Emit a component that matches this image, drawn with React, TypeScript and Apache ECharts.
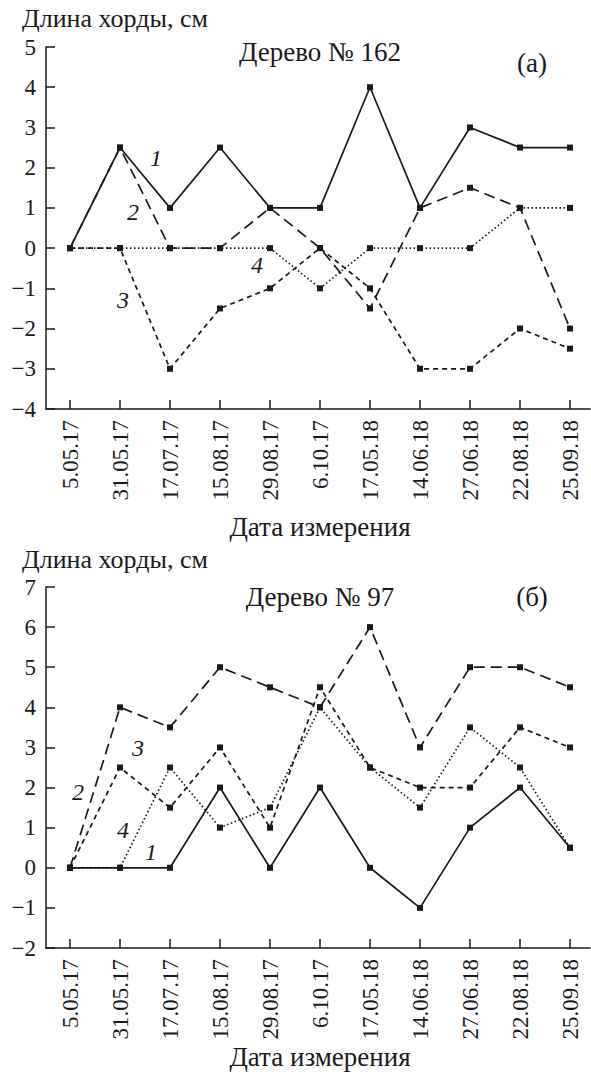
import React, { useEffect, useRef } from "react";
import * as echarts from "echarts";

const dates = ["5.05.17", "31.05.17", "17.07.17", "15.08.17", "29.08.17", "6.10.17", "17.05.18", "14.06.18", "27.06.18", "22.08.18", "25.09.18"];

// Дерево № 162
const a1 = [0, 2.5, 1, 2.5, 1, 1, 4, 1, 3, 2.5, 2.5];
const a2 = [0, 2.5, 0, 0, 1, 0, -1.5, 1, 1.5, 1, -2];
const a3 = [0, 0, -3, -1.5, -1, 0, -1, -3, -3, -2, -2.5];
const a4 = [0, 0, 0, 0, 0, -1, 0, 0, 0, 1, 1];

// Дерево № 97
const b1 = [0, 0, 0, 2, 0, 2, 0, -1, 1, 2, 0.5];
const b2 = [0, 4, 3.5, 5, 4.5, 4, 6, 3, 5, 5, 4.5];
const b3 = [0, 2.5, 1.5, 3, 1, 4.5, 2.5, 2, 2, 3.5, 3];
const b4 = [0, 0, 2.5, 1, 1.5, 4, 2.5, 1.5, 3.5, 2.5, 0.5];

const FONT = "Liberation Serif";
const INK = "#1a1a1a";

export default function App() {
  const ref = useRef<HTMLDivElement>(null);
  useEffect(() => {
    document.body.style.margin = "0";
    const chart = echarts.init(ref.current!, null, { renderer: "svg" });
    const idx = dates.map((_, i) => i);
    const axLine = { color: INK, width: 1.5 };
    const mkX = (g: number) => ({
      type: "value",
      gridIndex: g,
      min: -0.48,
      max: 10.4,
      axisLine: { show: true, onZero: false, lineStyle: axLine },
      axisTick: { show: true, inside: true, length: 9, customValues: idx, lineStyle: axLine },
      axisLabel: {
        rotate: 90,
        margin: 11,
        customValues: idx,
        formatter: (v: number) => dates[Math.round(v)] ?? "",
        fontSize: 23,
        fontFamily: FONT,
        color: INK,
      },
      splitLine: { show: false },
    });
    const mkY = (g: number, min: number, max: number) => ({
      type: "value",
      gridIndex: g,
      min,
      max,
      interval: 1,
      axisLine: { show: true, onZero: false, lineStyle: axLine },
      axisTick: { show: true, inside: true, length: 9, lineStyle: axLine },
      axisLabel: {
        margin: 10,
        fontSize: 23,
        fontFamily: FONT,
        color: INK,
        formatter: (v: number) => (v < 0 ? "\u2212" + Math.abs(v) : String(v)),
      },
      splitLine: { show: false },
    });
    const styles: any[] = ["solid", [11, 6], [5, 4], [1.5, 2.5]];
    const mkS = (vals: number[], k: number, g: number) => ({
      type: "line",
      xAxisIndex: g,
      yAxisIndex: g,
      data: vals.map((v, i) => [i, v]),
      symbol: "rect",
      symbolSize: 6,
      itemStyle: { color: INK },
      lineStyle: { color: INK, width: 1.7, type: styles[k] },
      z: 10 - k,
    });
    const txt = (text: string, x: number, y: number, size = 27, italic = false, align = "center") => ({
      type: "text",
      x,
      y,
      style: {
        text,
        fontSize: size,
        fontFamily: FONT,
        fontStyle: italic ? "italic" : "normal",
        fill: INK,
        textAlign: align,
        textVerticalAlign: "middle",
      },
    });
    chart.setOption({
      animation: false,
      backgroundColor: "#ffffff",
      textStyle: { fontFamily: FONT },
      grid: [
        { left: 46, top: 47, width: 544, height: 362 },
        { left: 46, top: 587, width: 544, height: 361 },
      ],
      xAxis: [mkX(0), mkX(1)],
      yAxis: [mkY(0, -4, 5), mkY(1, -2, 7)],
      series: [
        mkS(a1, 0, 0), mkS(a2, 1, 0), mkS(a3, 2, 0), mkS(a4, 3, 0),
        mkS(b1, 0, 1), mkS(b2, 1, 1), mkS(b3, 2, 1), mkS(b4, 3, 1),
      ],
      graphic: [
        txt("Длина хорды, см", 22, 18, 26, false, "left"),
        txt("Дерево № 162", 320, 52),
        txt("(а)", 532, 63),
        txt("Дата измерения", 320, 527),
        txt("1", 156, 158, 24, true),
        txt("2", 133, 212, 24, true),
        txt("3", 123, 300, 24, true),
        txt("4", 257, 265, 24, true),
        txt("Длина хорды, см", 22, 559, 26, false, "left"),
        txt("Дерево № 97", 320, 597),
        txt("(б)", 532, 597),
        txt("Дата измерения", 320, 1057),
        txt("2", 78, 792, 24, true),
        txt("3", 138, 748, 24, true),
        txt("4", 123, 830, 24, true),
        txt("1", 151, 852, 24, true),
      ],
    });
    return () => chart.dispose();
  }, []);
  return <div ref={ref} style={{ width: 591, height: 1074 }} />;
}
